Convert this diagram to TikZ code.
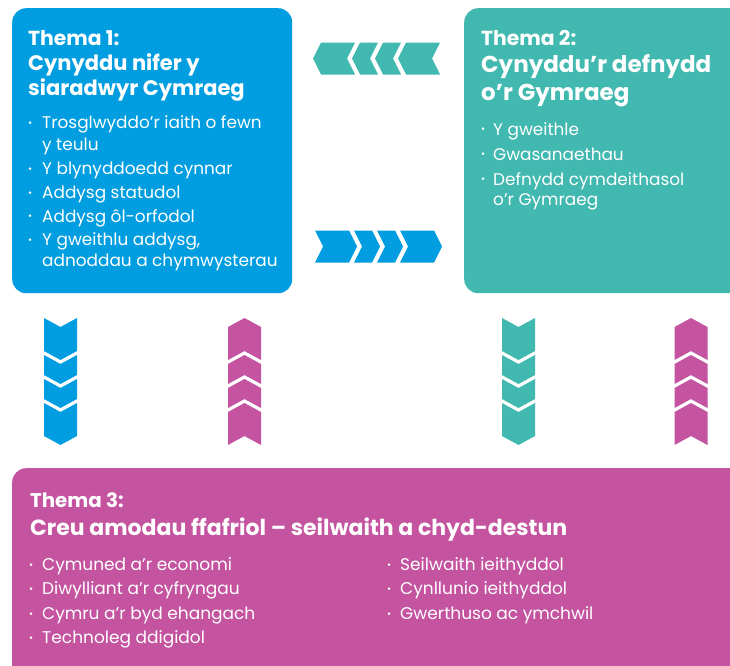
\documentclass[tikz,border=0pt]{standalone}
\usepackage{fontspec}
\setmainfont{Poppins}
\definecolor{tblue}{HTML}{009EE0}
\definecolor{tteal}{HTML}{42B9B0}
\definecolor{tmag}{HTML}{C453A0}
% chevrons: h = half thickness, d = tip depth
\newcommand\chevR[4]{\fill[#1] (#2,#4-16) -- ++(#3,0) -- ++(8,16) -- ++(-8,16) -- ++(-#3,0) -- ++(8,-16) -- cycle;}
\newcommand\chevL[4]{\fill[#1] (#2,#4-16) -- ++(-#3,0) -- ++(-8,16) -- ++(8,16) -- ++(#3,0) -- ++(-8,-16) -- cycle;}
\newcommand\chevD[4]{\fill[#1] (#4-16.5,#2) -- ++(16.5,9) -- ++(16.5,-9) -- ++(0,#3) -- ++(-16.5,9) -- ++(-16.5,-9) -- cycle;}
\newcommand\chevU[4]{\fill[#1] (#4-16.5,#2) -- ++(16.5,-9) -- ++(16.5,9) -- ++(0,-#3) -- ++(-16.5,-9) -- ++(-16.5,9) -- cycle;}
\begin{document}
\begin{tikzpicture}[x=1pt,y=-1pt,
  panel/.style={rounded corners=14pt, inner sep=0pt, anchor=north west},
  txt/.style={inner sep=0pt, anchor=base west, text=white},
  thm/.style={txt, font=\fontsize{20.3}{20}\selectfont\bfseries},
  thmc/.style={txt, font=\fontsize{19.8}{20}\selectfont\bfseries},
  ttl/.style={txt, font=\fontsize{21}{21}\selectfont\bfseries},
  ttlb/.style={txt, font=\fontsize{23}{23}\selectfont\bfseries},
  itm/.style={txt, font=\fontsize{16.9}{17}\selectfont},
  dot/.style={txt, font=\fontsize{10}{10}\selectfont},
  ttlcb/.style={txt, font=\fontsize{22}{22}\selectfont\bfseries},
  itmc/.style={txt, font=\fontsize{17}{17}\selectfont},
]
\useasboundingbox (0,0) rectangle (730,665);
\fill[white] (0,0) rectangle (730,665);

% panels
\node[panel, fill=tblue, minimum width=280pt, minimum height=285pt] (p1) at (12,8) {};
\node[panel, fill=tteal, minimum width=290pt, minimum height=285pt] (p2) at (464,8) {};
\node[panel, fill=tmag, minimum width=760pt, minimum height=230pt] (p3) at (12,468) {};

% Thema 1
\node[thm] (a0) at (28,45) {Thema 1:};
\node[ttl] (a1) at (28,70) {Cynyddu nifer y};
\node[ttl] (a2) at (28,95) {siaradwyr Cymraeg};
\node[dot] (ad1) at (28,126) {•};
\node[itm] (ab1) at (42,128.5) {Trosglwyddo’r iaith o fewn};
\node[itm] (ab1b) at (42,150) {y teulu};
\node[dot] (ad2) at (28,172) {•};
\node[itm] (ab2) at (42,174.5) {Y blynyddoedd cynnar};
\node[dot] (ad3) at (28,196) {•};
\node[itm] (ab3) at (42,198.5) {Addysg statudol};
\node[dot] (ad4) at (28,219.5) {•};
\node[itm] (ab4) at (42,222) {Addysg ôl-orfodol};
\node[dot] (ad5) at (28,243) {•};
\node[itm] (ab5) at (42,245.5) {Y gweithlu addysg,};
\node[itm] (ab5b) at (42,266) {adnoddau a chymwysterau};

% Thema 2
\node[thm] (b0) at (481,45) {Thema 2:};
\node[ttlb] (b1) at (481,72) {Cynyddu’r defnydd};
\node[ttlb] (b2) at (481,100) {o’r Gymraeg};
\node[dot] (bd1) at (481,132.5) {•};
\node[itm] (bb1) at (493,135) {Y gweithle};
\node[dot] (bd2) at (481,157.5) {•};
\node[itm] (bb2) at (493,160) {Gwasanaethau};
\node[dot] (bd3) at (481,182.5) {•};
\node[itm] (bb3) at (493,185) {Defnydd cymdeithasol};
\node[itm] (bb3b) at (493,205) {o’r Gymraeg};

% Thema 3
\node[thmc] (c0) at (30,507) {Thema 3:};
\node[ttlcb] (c1) at (30,535) {Creu amodau ffafriol – seilwaith a chyd-destun};
\node[dot] (cd1) at (29,568) {•};
\node[itmc] (cb1) at (42,570) {Cymuned a’r economi};
\node[dot] (cd2) at (29,592.5) {•};
\node[itmc] (cb2) at (42,594.5) {Diwylliant a’r cyfryngau};
\node[dot] (cd3) at (29,617) {•};
\node[itmc] (cb3) at (42,619) {Cymru a’r byd ehangach};
\node[dot] (cd4) at (29,641.5) {•};
\node[itmc] (cb4) at (42,643.5) {Technoleg ddigidol};
\node[dot] (cd5) at (387,568) {•};
\node[itmc] (cb5) at (400,570) {Seilwaith ieithyddol};
\node[dot] (cd6) at (387,592.5) {•};
\node[itmc] (cb6) at (400,594.5) {Cynllunio ieithyddol};
\node[dot] (cd7) at (387,617) {•};
\node[itmc] (cb7) at (400,619) {Gwerthuso ac ymchwil};

% horizontal chevrons
\chevL{tteal}{440}{34}{58.5}
\chevL{tteal}{401}{18}{58.5}
\chevL{tteal}{378}{18}{58.5}
\chevL{tteal}{355}{34}{58.5}
\chevR{tblue}{315}{34}{246.5}
\chevR{tblue}{354}{18}{246.5}
\chevR{tblue}{377}{18}{246.5}
\chevR{tblue}{400}{34}{246.5}

% vertical chevrons
\foreach \xc/\col in {60.5/tblue, 518.5/tteal}{
  \chevD{\col}{318}{33}{\xc}
  \chevD{\col}{355}{20}{\xc}
  \chevD{\col}{379}{20}{\xc}
  \chevD{\col}{403}{33}{\xc}
}
\foreach \xc in {244.5, 691}{
  \chevU{tmag}{445}{33}{\xc}
  \chevU{tmag}{408}{20}{\xc}
  \chevU{tmag}{384}{20}{\xc}
  \chevU{tmag}{360}{33}{\xc}
}
\end{tikzpicture}
\end{document}
